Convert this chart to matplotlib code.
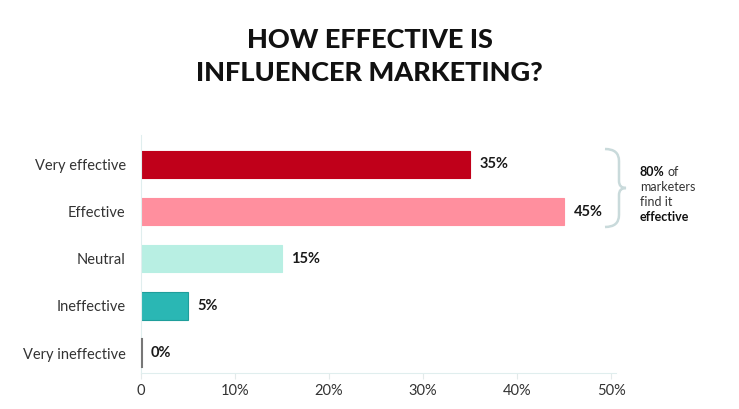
import matplotlib
matplotlib.use('Agg')
from matplotlib import pyplot as plt
from matplotlib.path import Path
from matplotlib.patches import PathPatch

plt.rcParams['font.family'] = ['Lato', 'DejaVu Sans']

# 数据
categories = ['Very effective', 'Effective', 'Neutral', 'Ineffective', 'Very ineffective']
values = [35, 45, 15, 5, 0]
colors = ['#c0001a', '#ff8f9e', '#b8efe3', '#2ab7b4', '#777777']
edges = ['#c0001a', '#ff8f9e', '#b8efe3', '#1f9e9b', '#777777']
xticks = [0, 10, 20, 30, 40, 50]
xtick_labels = ['0', '10%', '20%', '30%', '40%', '50%']

W, H = 739, 409
fig = plt.figure(figsize=(W / 100, H / 100), dpi=100)
ax = fig.add_axes([141 / W, 1 - 373 / H, (616 - 141) / W, (373 - 135) / H])

y = list(range(len(categories)))
ax.barh(y, values, height=0.58, color=colors, edgecolor=edges, linewidth=0.8)
# 0% 的细线
ax.plot([0.1, 0.1], [4 - 0.3, 4 + 0.3], color='#777777', linewidth=1.5,
        zorder=5, clip_on=False)

for yi, v in zip(y, values):
    ax.text(v + 1.0, yi, '{}%'.format(v), va='center', ha='left',
            fontsize=10.5, fontweight='bold', color='#1a1a1a')

ax.set_xlim(0, 50.5)
ax.set_ylim(4.42, -0.62)
ax.set_yticks(y)
ax.set_yticklabels(categories, fontsize=10.5, color='#333333')
ax.set_xticks(xticks)
ax.set_xticklabels(xtick_labels, fontsize=10.5, color='#333333')
ax.tick_params(axis='y', length=0, pad=11)
ax.tick_params(axis='x', length=4, color='#e3eaea', pad=4)

for s in ['top', 'right']:
    ax.spines[s].set_visible(False)
ax.spines['left'].set_color('#e0eeee')
ax.spines['bottom'].set_color('#e0eeee')

# 标题
fig.text(0.5, 1 - 40 / H, 'HOW EFFECTIVE IS', ha='center', va='center',
         fontsize=19.5, fontweight='black', color='#111111')
fig.text(0.5, 1 - 73 / H, 'INFLUENCER MARKETING?', ha='center', va='center',
         fontsize=19.5, fontweight='black', color='#111111')

# 右侧括号
def fx(px):
    return px / W

def fy(py):
    return 1 - py / H

pts = [(605, 149), (619, 149), (619, 161),
       (619, 181), (619, 188), (626, 188),
       (619, 188), (619, 195), (619, 215),
       (619, 227), (605, 227)]
codes = [Path.MOVETO, Path.CURVE3, Path.CURVE3,
         Path.LINETO, Path.CURVE3, Path.CURVE3,
         Path.CURVE3, Path.CURVE3, Path.LINETO,
         Path.CURVE3, Path.CURVE3]
brace = Path([(fx(a), fy(b)) for a, b in pts], codes)
fig.add_artist(PathPatch(brace, transform=fig.transFigure, fill=False,
                         edgecolor='#c9dadb', linewidth=1.8))

fig.text(fx(640), fy(172), '80%', fontsize=9, fontweight='bold',
         color='#111111', va='center', ha='left')
fig.text(fx(667), fy(172), 'of', fontsize=9, color='#333333', va='center', ha='left')
fig.text(fx(640), fy(187), 'marketers', fontsize=9, color='#333333', va='center', ha='left')
fig.text(fx(640), fy(202), 'find it', fontsize=9, color='#333333', va='center', ha='left')
fig.text(fx(640), fy(217), 'effective', fontsize=9, fontweight='bold',
         color='#111111', va='center', ha='left')

plt.savefig('out.png', dpi=100)
